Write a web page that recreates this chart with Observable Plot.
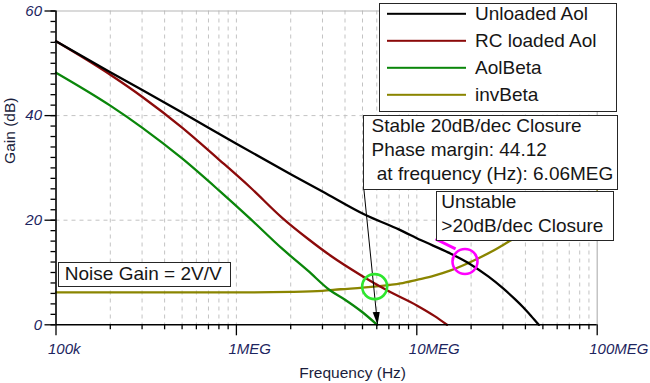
<!DOCTYPE html>
<html><head><meta charset="utf-8">
<script src="https://cdn.jsdelivr.net/npm/d3@7"></script>
<script src="https://cdn.jsdelivr.net/npm/@observablehq/plot@0.6"></script>
<style>
body{margin:0;background:#fff;}
#wrap{position:relative;width:650px;height:383px;overflow:hidden;font-family:"Liberation Sans",Arial,sans-serif;}
.box{position:absolute;background:#fff;border:1.4px solid #262626;box-sizing:border-box;color:#161616;font-size:19px;white-space:pre;}
.box .ln{position:absolute;left:0;line-height:20px;transform:translateY(-50%);}
.sw{position:absolute;height:2.4px;transform:translateY(-50%);}
</style></head><body><div id="wrap"></div>
<script>
// ---- data ----
const seriesNames = ["Unloaded Aol", "RC loaded Aol", "AolBeta", "invBeta"];
const seriesColors = ["#000000", "#8b0a0a", "#0a860a", "#8a8500"];

const unloadedFreq = [1e5, 2e5, 5e5, 1e6, 2e6, 3e6, 5.2e6, 8e6, 1.05e7, 1.5e7, 2e7, 2.5e7, 3e7, 3.5e7, 3.9e7, 4.3e7, 4.75e7];
const unloadedGain = [54.2, 48.3, 40.6, 34.6, 28.8, 25.5, 21.0, 18.2, 16.2, 13.8, 11.5, 9.2, 7.0, 4.9, 3.3, 1.7, 0];

const loadedFreq = [1e5, 2e5, 3e5, 5e5, 8e5, 1.2e6, 1.8e6, 2.5e6, 3.3e6, 5e6, 7e6, 1e7, 1.25e7, 1.47e7];
const loadedGain = [54.2, 47.8, 43.6, 37.7, 31.6, 26.2, 20.4, 16.4, 13.3, 9.3, 6.4, 3.7, 1.7, 0];

const aolBetaFreq = [1e5, 2e5, 3e5, 5e5, 8e5, 1.2e6, 1.8e6, 2.5e6, 3.3e6, 4e6, 5e6, 6.03e6];
const aolBetaGain = [48.2, 41.9, 37.7, 31.8, 25.7, 20.2, 14.5, 10.3, 6.6, 4.8, 2.4, 0];

const invBetaFreq = [1e5, 1e6, 2e6, 3e6, 3.78e6, 5e6, 5.78e6, 8.13e6, 1e7, 1.25e7, 1.54e7, 2.07e7, 2.6e7, 3.31e7, 5e7, 1e8];
const invBetaGain = [6.2, 6.2, 6.3, 6.5, 6.8, 7.1, 7.3, 7.9, 8.6, 9.4, 10.4, 12.3, 14.0, 16.1, 19.7, 25.5];

const stableCross = [{f: 5.84e6, g: 7.3}];
const unstableCross = [{f: 1.85e7, g: 12.1}];
const stablePointer = [{f1: 5.09e6, g1: 25.9, f2: 6.06e6, g2: 0}];
const unstablePointer = [{f1: 1.27e7, g1: 16.4, f2: 1.64e7, g2: 14.5}];

const xMajorTicks = [1e5, 1e6, 1e7, 1e8];
const xTickLabels = ["100k", "1MEG", "10MEG", "100MEG"];
const xMultipliers = [1, 2, 3, 4, 5, 6, 7, 8, 9];
const yMajorTicks = [0, 20, 40, 60];
const yTickLabels = ["0", "20", "40", "60"];
const yMinorStep = 2;
const yGridLines = [20, 40];

const stableText = ["Stable 20dB/dec Closure", "Phase margin: 44.12", " at frequency (Hz): 6.06MEG"];
const unstableText = ["Unstable", ">20dB/dec Closure"];
const noiseText = "Noise Gain = 2V/V";

// ---- derived ----
const zip = (fs, gs) => fs.map((f, i) => ({f, g: gs[i]}));
const series = [
  zip(unloadedFreq, unloadedGain),
  zip(loadedFreq, loadedGain),
  zip(aolBetaFreq, aolBetaGain),
  zip(invBetaFreq, invBetaGain)
];
const decades = xMajorTicks.slice(0, 3);
const xAll = decades.flatMap(d => xMultipliers.map(m => m * d));
const xGrid = xAll.filter(v => v > 1e5);
const xMinor = xAll.filter(v => !xMajorTicks.includes(v));
const yMinor = d3.range(0, 60 + 1e-9, yMinorStep);
const xLabelRows = xMajorTicks.map((v, i) => ({v, t: xTickLabels[i]}));
const yLabelRows = yMajorTicks.map((v, i) => ({v, t: yTickLabels[i]}));

const FONT = '"Liberation Sans", Arial, sans-serif';
const tickColor = "#1d2560";
const gridStyle = {stroke: "#c3c3c3", strokeWidth: 1, strokeDasharray: "4,4"};
const lineStyle = (i) => ({x: "f", y: "g", stroke: seriesColors[i], strokeWidth: 2.3, curve: "monotone-x"});

const chart = Plot.plot({
  width: 650, height: 383,
  marginLeft: 55.5, marginRight: 53.3, marginTop: 10.5, marginBottom: 58.7,
  x: {type: "log", domain: [1e5, 1e8]},
  y: {domain: [0, 60]},
  style: {fontFamily: FONT, background: "white", overflow: "visible"},
  marks: [
    Plot.ruleX(xGrid, gridStyle),
    Plot.ruleY(yGridLines, gridStyle),
    Plot.ruleY([60], {stroke: "#b5b5b5", strokeWidth: 1.2}),
    Plot.ruleX([1e8], {stroke: "#b5b5b5", strokeWidth: 1.2}),
    Plot.line(series[3], lineStyle(3)),
    Plot.line(series[2], lineStyle(2)),
    Plot.line(series[1], lineStyle(1)),
    Plot.line(series[0], lineStyle(0)),
    Plot.link(stablePointer, {x1: "f1", y1: "g1", x2: "f2", y2: "g2", stroke: "#000", strokeWidth: 1, markerEnd: "arrow"}),
    Plot.dot(stableCross, {x: "f", y: "g", r: 12.5, stroke: "#2ee62e", strokeWidth: 2.6, fill: "none"}),
    Plot.dot(unstableCross, {x: "f", y: "g", r: 12.5, stroke: "#ff00ff", strokeWidth: 2.6, fill: "none"}),
    Plot.link(unstablePointer, {x1: "f1", y1: "g1", x2: "f2", y2: "g2", stroke: "#ff00ff", strokeWidth: 3}),
    Plot.ruleX([1e5], {stroke: "#000", strokeWidth: 1.6}),
    Plot.ruleY([0], {stroke: "#000", strokeWidth: 1.6}),
    Plot.axisX({ticks: xMinor, tickSize: 5, tickFormat: () => "", label: null, stroke: "#000", strokeWidth: 1.3}),
    Plot.axisX({ticks: xMajorTicks, tickSize: 11, tickFormat: () => "", label: null, stroke: "#000", strokeWidth: 1.3}),
    Plot.axisY({ticks: yMinor, tickSize: 5, tickFormat: () => "", label: null, stroke: "#000", strokeWidth: 1.3}),
    Plot.axisY({ticks: yMajorTicks, tickSize: 11, tickFormat: () => "", label: null, stroke: "#000", strokeWidth: 1.3}),
    Plot.text(xLabelRows, {x: "v", y: 0, text: d => d.t, dx: -8, dy: 24, textAnchor: "start", lineAnchor: "middle", fontSize: 15, fontStyle: "italic", fill: tickColor}),
    Plot.text(yLabelRows, {x: 1e5, y: "v", text: d => d.t, dx: -14, textAnchor: "end", lineAnchor: "middle", fontSize: 15, fontStyle: "italic", fill: tickColor}),
    Plot.text(["Gain (dB)"], {frameAnchor: "left", text: d => d, rotate: -90, dx: -46, dy: -4, fontSize: 15.5, fill: "#1a1d3c"}),
    Plot.text(["Frequency (Hz)"], {frameAnchor: "bottom", text: d => d, dx: 26, dy: 48.5, fontSize: 15.5, fill: "#1a1d3c", lineAnchor: "middle"})
  ]
});

// filled arrowhead for the pointer
d3.select(chart).selectAll("marker").each(function () {
  const m = d3.select(this);
  m.attr("viewBox", "-13 -7 14 14").attr("markerUnits", "userSpaceOnUse")
   .attr("markerWidth", 14).attr("markerHeight", 14)
   .attr("fill", "#000").attr("stroke", "none");
  m.selectAll("*").remove();
  m.append("path").attr("d", "M-13,-3.6L0,0L-13,3.6Z");
});

const wrap = document.getElementById("wrap");
wrap.appendChild(chart);

function addBox(left, top, width, height, lines, padLeft, firstCenter, step) {
  const b = document.createElement("div");
  b.className = "box";
  Object.assign(b.style, {left: left + "px", top: top + "px", width: width + "px", height: height + "px"});
  lines.forEach((t, i) => {
    const s = document.createElement("div");
    s.className = "ln";
    s.textContent = t;
    s.style.left = padLeft + "px";
    s.style.top = (firstCenter + i * step) + "px";
    b.appendChild(s);
  });
  wrap.appendChild(b);
  return b;
}

// legend
const leg = addBox(379, 3, 237.5, 108.5, [], 0, 0, 0);
seriesNames.forEach((n, i) => {
  const cy = 9.5 + i * 27.2;
  const sw = document.createElement("div");
  sw.className = "sw";
  Object.assign(sw.style, {left: "6.5px", width: "79px", top: cy + "px", background: seriesColors[i]});
  leg.appendChild(sw);
  const t = document.createElement("div");
  t.className = "ln";
  t.textContent = n;
  t.style.left = "95px";
  t.style.top = cy + "px";
  leg.appendChild(t);
});

addBox(363, 114.5, 254.5, 75, stableText, 7.5, 10.3, 24.3);
addBox(435.5, 190.5, 178.5, 50, unstableText, 4.8, 10.3, 24.3);
addBox(58.3, 261.7, 172.5, 25.2, [noiseText], 5.5, 11.2, 0);
</script>
</body></html>
